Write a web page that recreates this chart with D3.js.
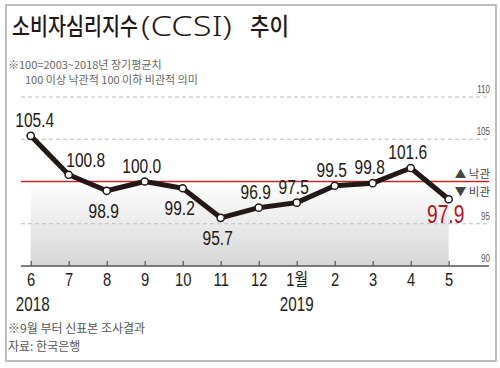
<!DOCTYPE html>
<html><head><meta charset="utf-8">
<script src="https://cdn.jsdelivr.net/npm/d3@7"></script>
<style>body{margin:0;background:#fff}svg{display:block}</style>
</head><body>
<svg id="c" width="500" height="368"></svg>
<script>
const months = ["6","7","8","9","10","11","12","1월","2","3","4","5"];
const values = [105.4,100.8,98.9,100.0,99.2,95.7,96.9,97.5,99.5,99.8,101.6,97.9];
const labelSide = ["left","right","below","above","below","below","above","above","above","above","above","last"];
const yTicks = [90,95,105,110];
const years = [{at:"6",text:"2018"},{at:"1월",text:"2019"}];
const titleParts = ["소비자심리지수","(CCSI)","추이"];
const notes = ["※100=2003~2018년 장기평균치","100 이상 낙관적 100 이하 비관적 의미"];
const footers = ["※9월 부터 신표본 조사결과","자료: 한국은행"];
const baseline = 100;

const svg = d3.select("#c");
const KR = "'Noto Sans CJK KR','Noto Sans',sans-serif";
const LAT = "'Liberation Sans',Arial,sans-serif";
const NS = 0.74; // horizontal compression for narrow digits

svg.append("rect").attr("x",6).attr("y",5).attr("width",490).attr("height",356)
  .attr("fill","#fff").attr("stroke","#bdbdbd").attr("stroke-width",2);

const x = d3.scalePoint().domain(months).range([30.7,448.7]);
const y = d3.scaleLinear().domain([90,110]).range([266,97]);
const left = 21, right = 489;

// gradient
const defs = svg.append("defs");
const g = defs.append("linearGradient").attr("id","gr").attr("x1",0).attr("x2",0).attr("y1",0).attr("y2",1);
g.append("stop").attr("offset","0%").attr("stop-color","#ffffff");
g.append("stop").attr("offset","100%").attr("stop-color","#d6d6d6");
svg.append("rect").attr("x",x(months[0])).attr("y",y(baseline))
  .attr("width",x(months[months.length-1])-x(months[0])).attr("height",y(90)-y(baseline))
  .attr("fill","url(#gr)");

// grid
svg.append("g").selectAll("line").data(yTicks.filter(d=>d!==90)).join("line")
  .attr("x1",left).attr("x2",right).attr("y1",d=>y(d)).attr("y2",d=>y(d))
  .attr("stroke","#bdbdbd").attr("stroke-width",1).attr("stroke-dasharray","4,3");

// y tick labels
svg.append("g").selectAll("text").data(yTicks).join("text")
  .attr("transform",d=>`translate(490,${y(d)-4}) scale(0.8,1)`).attr("text-anchor","end")
  .attr("font-family",LAT).attr("font-size",10).attr("fill","#555").text(d=>d);

// red baseline
svg.append("line").attr("x1",left).attr("x2",right).attr("y1",y(baseline)).attr("y2",y(baseline))
  .attr("stroke","#c1272d").attr("stroke-width",1.3);

svg.append("text").attr("x",490).attr("y",y(baseline)-3.5).attr("text-anchor","end")
  .attr("font-family",KR).attr("font-size",11.5).attr("fill","#444").text("▲ 낙관");
svg.append("text").attr("x",490).attr("y",y(baseline)+14).attr("text-anchor","end")
  .attr("font-family",KR).attr("font-size",11.5).attr("fill","#444").text("▼ 비관");

// x axis
const xAxis = d3.axisBottom(x).tickSizeInner(-5).tickSizeOuter(0).tickPadding(0);
const ax = svg.append("g").attr("transform",`translate(0,${y(90)})`).call(xAxis);
ax.select(".domain").attr("d",`M${left},0H${right}`).attr("stroke","#555").attr("stroke-width",1.5);
ax.selectAll(".tick line").attr("stroke","#555").attr("stroke-width",1.2);
ax.selectAll(".tick text").attr("font-family",LAT+",'Noto Sans CJK KR'").attr("font-size",18).attr("fill","#222")
  .attr("y",0).attr("dy",null).attr("transform","translate(0,20) scale(0.82,1)");

svg.append("g").selectAll("text").data(years).join("text")
  .attr("transform",d=>`translate(${x(d.at)+(d.at==="6"?2:0)},311) scale(0.76,1)`).attr("text-anchor","middle")
  .attr("font-family",LAT).attr("font-size",20).attr("fill","#222").text(d=>d.text);

// line
const line = d3.line().x((d,i)=>x(months[i])).y(d=>y(d));
svg.append("path").datum(values).attr("d",line).attr("fill","none")
  .attr("stroke","#231815").attr("stroke-width",5).attr("stroke-linejoin","round");
svg.append("g").selectAll("circle").data(values).join("circle")
  .attr("cx",(d,i)=>x(months[i])).attr("cy",d=>y(d)).attr("r",3.6)
  .attr("fill","#fff").attr("stroke","#231815").attr("stroke-width",1.5);

// value labels
const off = {left:[4,-9],right:[17,-8],below:[-3,27],above:[-3,-9],last:[-3,24]};
svg.append("g").selectAll("text").data(values).join("text")
  .attr("transform",(d,i)=>`translate(${x(months[i])+off[labelSide[i]][0]},${y(d)+off[labelSide[i]][1]}) scale(${NS},1)`)
  .attr("text-anchor","middle")
  .attr("font-family",LAT)
  .attr("font-size",(d,i)=>labelSide[i]==="last"?26:21)
  .attr("fill",(d,i)=>labelSide[i]==="last"?"#b5121b":"#231815")
  .text(d=>d.toFixed(1));

// title (each part fitted to the width it takes in the reference)
function fitted(txt, x0, y0, width, font, size, weight){
  const t = svg.append("text").attr("font-family",font).attr("font-size",size)
    .attr("font-weight",weight).attr("fill","#231815").text(txt);
  const s = width / t.node().getComputedTextLength();
  t.attr("transform",`translate(${x0},${y0}) scale(${s},1)`);
  return t;
}
fitted(titleParts[0],12,35,126,KR,24,500);
fitted(titleParts[1],141,36,91,"'Noto Sans',sans-serif",28,300);
fitted(titleParts[2],250,35,39,KR,24,500);

svg.append("text").attr("x",8).attr("y",69).attr("font-family",KR).attr("font-size",11).attr("fill","#666").text(notes[0]);
svg.append("text").attr("x",25).attr("y",84).attr("font-family",KR).attr("font-size",11).attr("fill","#666").text(notes[1]);
svg.append("text").attr("x",8).attr("y",333).attr("font-family",KR).attr("font-size",12).attr("fill","#555").text(footers[0]);
svg.append("text").attr("x",8).attr("y",351).attr("font-family",KR).attr("font-size",12).attr("fill","#555").text(footers[1]);
</script>
</body></html>
